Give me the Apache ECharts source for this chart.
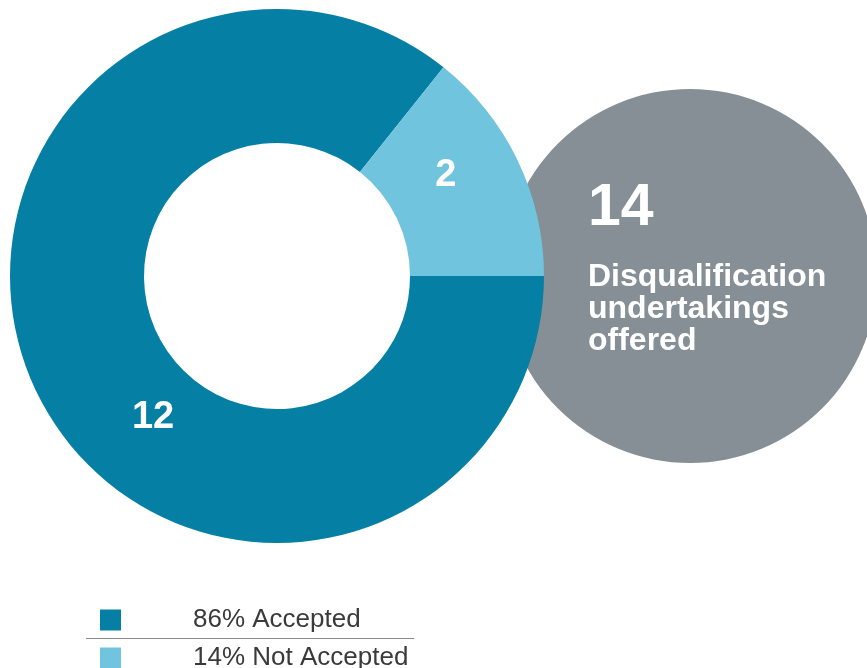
<!DOCTYPE html>
<html>
<head>
<meta charset="utf-8">
<title>Disqualification undertakings offered</title>
<script src="https://cdn.jsdelivr.net/npm/echarts@6/dist/echarts.min.js"></script>
<style>
  html, body { margin: 0; padding: 0; background: #ffffff; }
  #chart { width: 867px; height: 668px; }
</style>
</head>
<body>
<div id="chart"></div>
<script>
// Undertakings offered, split by outcome
const categories = ['Accepted', 'Not Accepted'];
const values = [12, 2];
const sliceColors = ['#0580A4', '#71C4DD'];
const headline = ['Disqualification', 'undertakings', 'offered'];

const total = values.reduce((a, b) => a + b, 0);
const pct = v => Math.round(v / total * 100) + '%';

// slice label nudges (dark slice, light slice)
const labelNudge = [[59, 53], [-14, -12]];
// legend rows stacked under each other
const legendRowTop = [607, 645];

const chart = echarts.init(document.getElementById('chart'), null, { renderer: 'canvas' });

const legendRow = (name, i) => ({
  orient: 'vertical',
  left: 100,
  top: legendRowTop[i],
  padding: 0,
  itemWidth: 21,
  itemHeight: 21,
  icon: 'rect',
  selectedMode: false,
  data: [name],
  formatter: n => pct(values[categories.indexOf(n)]) + ' ' + n,
  textStyle: {
    fontFamily: 'Liberation Sans',
    fontSize: 26,
    color: '#3a3a3a',
    padding: [5, 0, 0, 67]
  }
});

chart.setOption({
  animation: false,
  backgroundColor: '#ffffff',
  color: sliceColors,
  title: {
    left: 588,
    top: 157,
    padding: 0,
    text: '{num|' + total + '}\n' + headline.map(t => '{txt|' + t + '}').join('\n'),
    textStyle: {
      rich: {
        num: { fontFamily: 'Liberation Sans', fontSize: 59, fontWeight: 'bold', color: '#ffffff', lineHeight: 104 },
        txt: { fontFamily: 'Liberation Sans', fontSize: 32, fontWeight: 'bold', color: '#ffffff', lineHeight: 32 }
      }
    }
  },
  legend: categories.map(legendRow),
  graphic: [{
    type: 'line',
    silent: true,
    shape: { x1: 86, y1: 638.5, x2: 414, y2: 638.5 },
    style: { stroke: '#8a8a8a', lineWidth: 1 }
  }],
  series: [
    {
      // backdrop disc for the total
      type: 'pie',
      silent: true,
      center: [690, 276],
      radius: [0, 187],
      label: { show: false },
      labelLine: { show: false },
      itemStyle: { color: '#858F95' },
      data: [{ name: 'Total', value: total }]
    },
    {
      type: 'pie',
      silent: true,
      center: [277, 276],
      radius: [133, 267],
      startAngle: 0,
      clockwise: true,
      avoidLabelOverlap: false,
      label: {
        show: true,
        position: 'inside',
        formatter: '{c}',
        fontFamily: 'Liberation Sans',
        fontSize: 38,
        fontWeight: 'bold',
        color: '#ffffff'
      },
      labelLine: { show: false },
      data: categories.map((name, i) => ({
        name: name,
        value: values[i],
        label: { offset: labelNudge[i] }
      }))
    }
  ]
});
</script>
</body>
</html>
